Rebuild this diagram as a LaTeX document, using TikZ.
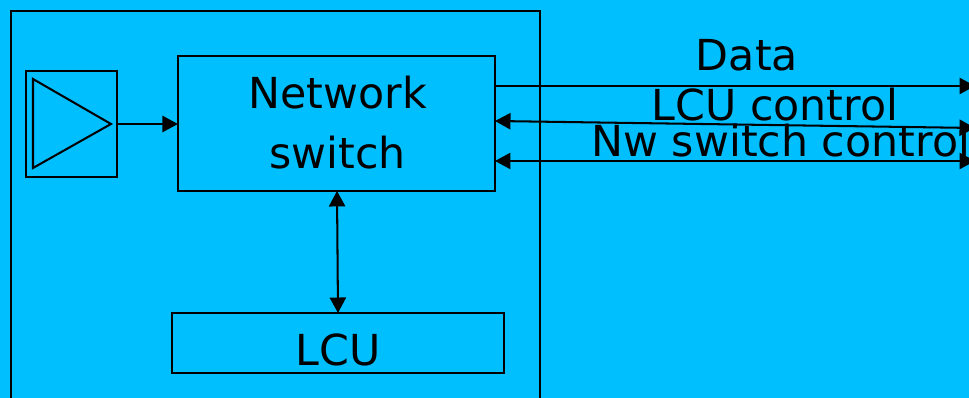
\documentclass[tikz,border=0pt]{standalone}
\usepackage{fontspec}
\setmainfont{DejaVu Sans}
\usetikzlibrary{arrows.meta}
\definecolor{slidebg}{RGB}{0,191,255}
\tikzstyle{block} = [draw, inner sep=0pt, outer sep=0pt, align=center, font=\fontsize{12.15}{17}\selectfont]
\tikzstyle{linetext} = [inner sep=0pt, anchor=base, font=\fontsize{12.15}{17}\selectfont]
\tikzstyle{link} = [{Triangle[length=4.4pt,width=4.6pt]}-{Triangle[length=4.4pt,width=4.6pt]}]
\tikzstyle{linkout} = [-{Triangle[length=4.4pt,width=4.6pt]}]
\begin{document}
\begin{tikzpicture}[x=0.01cm, y=-0.01cm, line width=0.58pt]
            \useasboundingbox (0,0) rectangle (969,398);
            \clip (0,0) rectangle (969,398);
            \fill[slidebg] (0,0) rectangle (969,398);
            % outer unit runs off the bottom
            \draw (11,11) rectangle (540,430);
            % amplifier
            \node[block, minimum width=0.91cm, minimum height=1.06cm] (amp) at (71.5,124) {};
            \draw (33,79) -- (111,124) -- (33,168) -- cycle;
            % blocks
            \node[block, minimum width=3.17cm, minimum height=1.35cm] (switch) at (336.5,123.5) {\hspace*{0.6pt}Network\\\hspace*{0.6pt}switch\rule[-0.6pt]{0pt}{1pt}};
            \node[block, minimum width=3.32cm, minimum height=0.60cm] (lcu) at (338,343) {\raisebox{-6.26pt}[0pt][0pt]{LCU}};
            % free ends on the right
            \coordinate (dataend) at (975,86);
            \coordinate (lcuend) at (975,128);
            \coordinate (nwend) at (975,161);
            \coordinate (datastart) at (495,86);
            \coordinate (lcustart) at (495,121);
            \coordinate (nwstart) at (495,161);
            \coordinate (switchlow) at (337,191);
            \coordinate (lcutop) at (338,313);
            \draw[linkout] (amp.east) -- (switch.west |- amp.east);
            \draw[link] (switchlow) -- (lcutop);
            \draw[linkout] (datastart) -- (dataend);
            \draw[link] (lcustart) -- (lcuend);
            \draw[link] (nwstart) -- (nwend);
            % labels
            \node[linetext] (data) at (747,71) {Data};
            \node[linetext] (lcucontrol) at (775,121) {LCU control};
            \node[linetext, anchor=base west] (nwcontrol) at (590.5,157) {Nw switch control};
        \end{tikzpicture}
\end{document}
